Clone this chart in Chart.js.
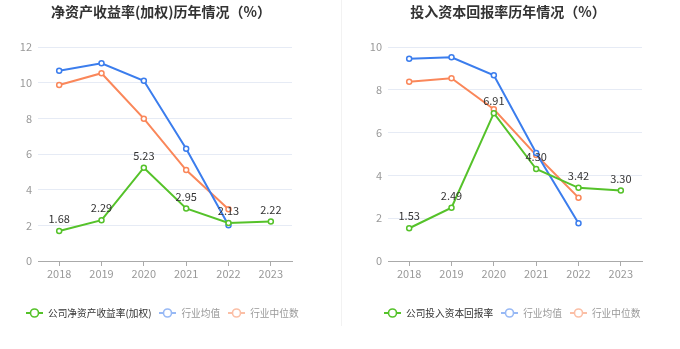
<!DOCTYPE html>
<html><head><meta charset="utf-8">
<script src="https://cdn.jsdelivr.net/npm/chart.js@4/dist/chart.umd.min.js"></script>
<style>
body{margin:0;width:680px;height:349px;background:#fff;position:relative;overflow:hidden;font-family:"Noto Sans CJK SC",sans-serif}
canvas{position:absolute;top:0}
.t{position:absolute;top:1px;font-size:14px;font-weight:bold;color:#333;white-space:nowrap;transform:translateX(-50%)}
.leg{position:absolute;top:305px;height:16px;display:flex;align-items:center;font-size:9.7px;white-space:nowrap}
.leg span{display:inline-flex;align-items:center;margin-right:8px}
.leg svg{margin-right:5px}
.div{position:absolute;left:341px;top:0;width:1px;height:326px;background:#f2f2f2}
</style></head>
<body>
<canvas id="c1" width="340" height="349" style="left:0"></canvas>
<canvas id="c2" width="340" height="349" style="left:340px"></canvas>
<div class="div"></div>
<div class="t" style="left:161px">净资产收益率(加权)历年情况（%）</div>
<div class="t" style="left:508px">投入资本回报率历年情况（%）</div>
<div class="leg" id="l1" style="left:26px"></div>
<div class="leg" id="l2" style="left:384px"></div>
<script>
const years = ['2018','2019','2020','2021','2022','2023'];
const roeCompany = [1.68, 2.29, 5.23, 2.95, 2.13, 2.22];
const roeAvg = [10.67, 11.09, 10.11, 6.30, 2.00, null];
const roeMedian = [9.87, 10.53, 7.98, 5.10, 2.90, null];
const roicCompany = [1.53, 2.49, 6.91, 4.30, 3.42, 3.30];
const roicAvg = [9.45, 9.52, 8.68, 5.05, 1.76, null];
const roicMedian = [8.38, 8.54, 7.09, 4.95, 2.96, null];
const roeNames = ['公司净资产收益率(加权)', '行业均值', '行业中位数'];
const roicNames = ['公司投入资本回报率', '行业均值', '行业中位数'];
const roeTicks = {max: 12, step: 2};
const roicTicks = {max: 10, step: 2};

const GREEN = '#55c22a', BLUE = '#3b7ded', ORANGE = '#fa875a';
const LEG_COLORS = ['#55c22a', '#98b9f5', '#fbbfa6'];
const LEG_TEXT = ['#333', '#999', '#999'];
const FONT = '"Noto Sans CJK SC", sans-serif';

const labelPlugin = {
  id: 'vals',
  afterDatasetsDraw(chart) {
    const ctx = chart.ctx;
    const meta = chart.getDatasetMeta(0);
    ctx.save();
    ctx.font = '11px ' + FONT;
    ctx.fillStyle = '#333';
    ctx.textAlign = 'center';
    ctx.textBaseline = 'middle';
    meta.data.forEach((p, i) => {
      const v = chart.data.datasets[0].data[i];
      if (v == null) return;
      ctx.fillText(v.toFixed(2), p.x, p.y - 12);
    });
    ctx.restore();
  }
};

function ds(label, data, color) {
  return {label, data, borderColor: color, backgroundColor: '#fff', borderWidth: 2,
    pointRadius: 2.5, pointHoverRadius: 2.5, pointBorderWidth: 1.5, pointBackgroundColor: '#fff',
    pointBorderColor: color, tension: 0, spanGaps: false};
}

function make(id, names, a, b, c, tk, yw, rp) {
  new Chart(document.getElementById(id), {
    type: 'line',
    data: {labels: years, datasets: [ds(names[0], a, GREEN), ds(names[1], b, BLUE), ds(names[2], c, ORANGE)]},
    options: {
      responsive: false, animation: false,
      layout: {padding: {top: 47, right: rp, left: 0, bottom: 0}},
      plugins: {legend: {display: false}, tooltip: {enabled: false}},
      scales: {
        x: {offset: true,
          grid: {drawOnChartArea: false, drawTicks: true, tickLength: 5, color: '#aaa'},
          border: {display: true, color: '#aaa', width: 1},
          ticks: {color: '#999', font: {size: 11, family: FONT}, padding: 1, maxRotation: 0},
          afterFit(s) { s.height = 88; }},
        y: {min: 0, max: tk.max,
          ticks: {stepSize: tk.step, color: '#999', font: {size: 11, family: FONT}, padding: 6},
          grid: {color: '#e6ebf5', drawTicks: false},
          border: {display: false},
          afterFit(s) { s.width = yw; }}
      }
    },
    plugins: [labelPlugin]
  });
}
make('c1', roeNames, roeCompany, roeAvg, roeMedian, roeTicks, 38, 48);
make('c2', roicNames, roicCompany, roicAvg, roicMedian, roicTicks, 48, 38);

function legend(id, names) {
  const el = document.getElementById(id);
  names.forEach((n, i) => {
    const s = document.createElement('span');
    s.innerHTML = '<svg width="17" height="12"><line x1="0" y1="6" x2="17" y2="6" stroke="' + LEG_COLORS[i] +
      '" stroke-width="2"/><circle cx="8.5" cy="6" r="4" fill="#fff" stroke="' + LEG_COLORS[i] + '" stroke-width="1.6"/></svg>';
    const t = document.createElement('b');
    t.style.fontWeight = 'normal';
    t.style.color = LEG_TEXT[i];
    t.textContent = n;
    s.appendChild(t);
    el.appendChild(s);
  });
}
legend('l1', roeNames);
legend('l2', roicNames);
</script>
</body></html>
